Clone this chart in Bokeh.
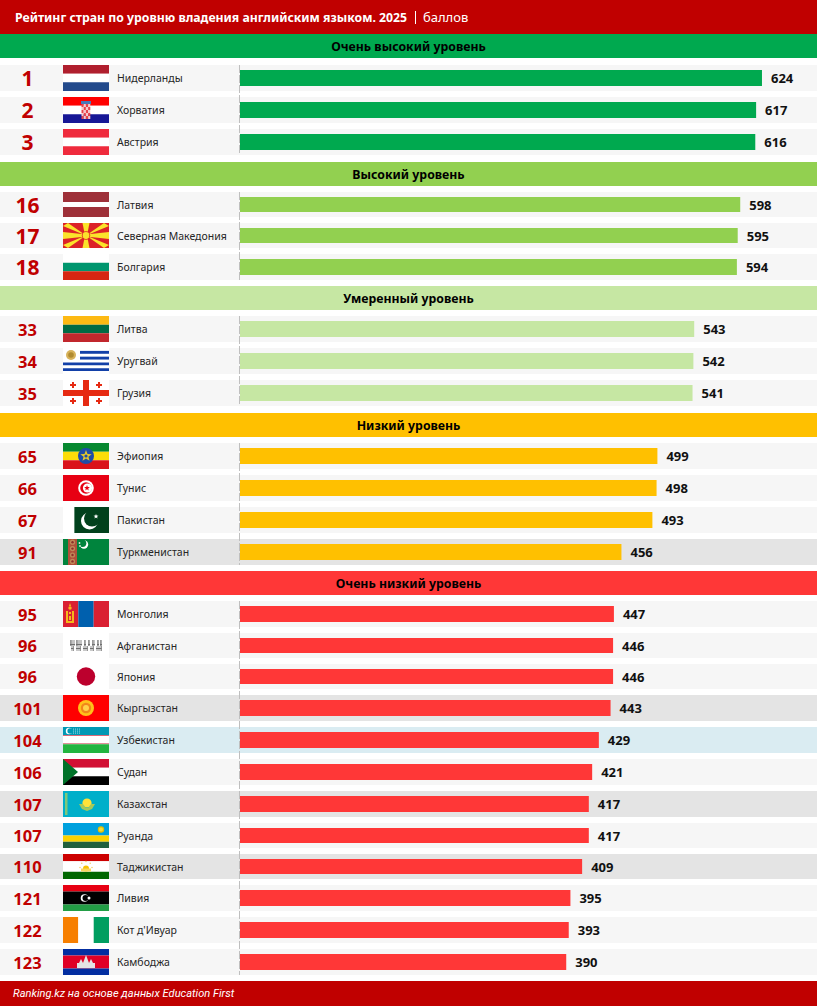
import math
from bokeh.core.properties import value as V
from bokeh.embed import file_html
from bokeh.models import Range1d
from bokeh.plotting import figure
from bokeh.resources import INLINE

# ---------- data ----------
TITLE = "Рейтинг стран по уровню владения английским языком. 2025"
UNIT = "баллов"
FOOTER = "Ranking.kz на основе данных Education First"
group_names = ["Очень высокий уровень", "Высокий уровень", "Умеренный уровень",
               "Низкий уровень", "Очень низкий уровень"]
group_colors = ["#00A94F", "#92D050", "#C6E7A3", "#FFC000", "#FF3737"]
group_sizes = [3, 3, 3, 4, 12]
ranks = [1, 2, 3, 16, 17, 18, 33, 34, 35, 65, 66, 67, 91, 95, 96, 96, 101, 104, 106, 107, 107, 110, 121, 122, 123]
countries = ["Нидерланды", "Хорватия", "Австрия", "Латвия", "Северная Македония", "Болгария",
             "Литва", "Уругвай", "Грузия", "Эфиопия", "Тунис", "Пакистан", "Туркменистан",
             "Монголия", "Афганистан", "Япония", "Кыргызстан", "Узбекистан", "Судан",
             "Казахстан", "Руанда", "Таджикистан", "Ливия", "Кот д'Ивуар", "Камбоджа"]
scores = [624, 617, 616, 598, 595, 594, 543, 542, 541, 499, 498, 493, 456,
          447, 446, 446, 443, 429, 421, 417, 417, 409, 395, 393, 390]
highlight = {"Туркменистан": "#E4E4E4", "Кыргызстан": "#E4E4E4", "Казахстан": "#E4E4E4",
             "Таджикистан": "#E4E4E4", "Узбекистан": "#DAECF2"}

# ---------- layout (page pixels) ----------
W, H = 817, 1006
row_top = [65, 97, 129, 192, 223, 254, 316, 348, 380, 443, 475, 507, 539,
           601, 633, 664, 695, 727, 759, 791, 823, 854, 885, 917, 949]
row_bot = [91, 123, 155, 217, 248, 280, 342, 374, 406, 469, 501, 533, 565,
           627, 658, 689, 721, 753, 785, 817, 848, 879, 911, 943, 975]
head_top = [34, 162, 286, 413, 571]
X0, SCALE = 240.0, 0.8365
FONT = "Noto Sans"
PAD = 0.5

p = figure(width=W + 1, height=H + 1, output_backend="svg", toolbar_location=None,
           x_range=Range1d((-PAD - X0) / SCALE, (W + PAD - X0) / SCALE), y_range=Range1d(H + PAD, -PAD),
           x_axis_location=None, y_axis_location=None,
           min_border=0, min_border_left=0, min_border_right=0, min_border_top=0, min_border_bottom=0,
           outline_line_color=None, background_fill_color="white", border_fill_color="white")
p.xgrid.visible = False
p.ygrid.visible = False
p.extra_x_ranges["px"] = Range1d(-PAD, W + PAD)
p.styles = {"margin": "-1px 0 0 -1px"}


def rc(x0, y0, x1, y1, c):
    p.quad(left=[x0], right=[x1], top=[y0], bottom=[y1], fill_color=c, line_color=None, x_range_name="px")


def circ(x, y, r, c):
    p.circle(x=[x], y=[y], radius=r, fill_color=c, line_color=None, x_range_name="px")


def poly(xs, ys, c):
    p.patch(xs, ys, fill_color=c, line_color=None, x_range_name="px")


def txt(x, y, s, size, color, style="normal", align="left", font=FONT):
    p.text(x=[x], y=[y], text=[s], text_font=V(font), text_font_size=f"{size}px",
           text_font_style=style, text_color=color, text_align=align,
           text_baseline="middle", x_range_name="px")


def star(x, y, r, c):
    xs, ys = [], []
    for i in range(10):
        a = -math.pi / 2 + i * math.pi / 5
        q = r if i % 2 == 0 else r * 0.42
        xs.append(x + q * math.cos(a))
        ys.append(y + q * math.sin(a))
    poly(xs, ys, c)


def hstripes(y0, y1, spec, x0=63, x1=109):
    tot = sum(f for f, _ in spec)
    y = y0
    for f, c in spec:
        h = (y1 - y0) * f / tot
        rc(x0, y, x1, y + h, c)
        y += h


def fl_nl(t, b): hstripes(t, b, [(1, "#B01F2E"), (1, "#FFFFFF"), (1, "#234A8C")])


def fl_hr(t, b):
    hstripes(t, b, [(1, "#FF0000"), (1, "#FFFFFF"), (1, "#171796")])
    rc(81, t + 4, 91, t + 7, "#4A78B8")
    cols = ["#E8434B", "#F6C9CC"]
    for j in range(5):
        for i in range(4):
            rc(81.5 + i * 2.2, t + 7 + j * 3, 83.7 + i * 2.2, t + 10 + j * 3, cols[(i + j) % 2])


def fl_at(t, b): hstripes(t, b, [(1, "#EF2B3D"), (1, "#FFFFFF"), (1, "#EF2B3D")])


def fl_lv(t, b): hstripes(t, b, [(2, "#9E3039"), (1, "#FFFFFF"), (2, "#9E3039")])


def fl_mk(t, b):
    rc(63, t, 109, b, "#DC2228")
    cx, cy = 86, (t + b) / 2
    y_ = "#FBE32B"
    targets = [(63, t), (109, t), (63, b), (109, b)]
    for tx, ty in targets:
        poly([cx, tx, tx + (5 if tx < cx else -5), cx], [cy, ty + (3 if ty < cy else -3), ty, cy], y_)
    poly([cx - 1, cx - 3.5, cx + 3.5, cx + 1], [cy, t, t, cy], y_)
    poly([cx - 1, cx - 3.5, cx + 3.5, cx + 1], [cy, b, b, cy], y_)
    poly([cx, 63, 63, cx], [cy - 1, cy - 3.5, cy + 3.5, cy + 1], y_)
    poly([cx, 109, 109, cx], [cy - 1, cy - 3.5, cy + 3.5, cy + 1], y_)
    circ(cx, cy, 4.2, "#DC2228")
    circ(cx, cy, 3.4, y_)


def fl_bg(t, b): hstripes(t, b, [(1, "#FFFFFF"), (1, "#00966E"), (1, "#D62612")])


def fl_lt(t, b): hstripes(t, b, [(1, "#FDB913"), (1, "#006A44"), (1, "#C1272D")])


def fl_uy(t, b):
    rc(63, t, 109, b, "#FFFFFF")
    h = (b - t) / 9
    for i, x0 in [(1, 80), (3, 80), (5, 63), (7, 63)]:
        rc(x0, t + i * h, 109, t + (i + 1) * h, "#1240A8")
    circ(71, t + 7, 5, "#D7B25A")
    circ(71, t + 7, 2.8, "#B08A30")


def fl_ge(t, b):
    red = "#E62A12"
    rc(63, t, 109, b, "#FFFFFF")
    rc(83, t, 89, b, red)
    rc(63, t + 10, 109, t + 16, red)
    for x, y in [(73, t + 5), (99, t + 5), (73, t + 21), (99, t + 21)]:
        rc(x - 3, y - 1, x + 3, y + 1, red)
        rc(x - 1, y - 3, x + 1, y + 3, red)


def fl_et(t, b):
    hstripes(t, b, [(1, "#078930"), (1, "#FCDD09"), (1, "#DA121A")])
    cy = (t + b) / 2
    circ(86, cy, 8, "#1F4CA8")
    star(86, cy, 6, "#E6C92A")
    circ(86, cy, 1.6, "#1F4CA8")


def fl_tn(t, b):
    rc(63, t, 109, b, "#E70013")
    cy = (t + b) / 2
    circ(86, cy, 7.8, "#FFFFFF")
    circ(86, cy, 5.8, "#E70013")
    circ(87.5, cy, 4.6, "#FFFFFF")
    star(87, cy, 3.0, "#E70013")


def fl_pk(t, b):
    rc(74, t, 109, b, "#01411C")
    rc(74, t, 75, b, "#5E8A70")
    cy = t + 14
    circ(89.5, cy, 8.5, "#FFFFFF")
    circ(92, cy - 2.5, 8, "#01411C")
    star(96, t + 9.5, 2.6, "#FFFFFF")


def fl_tm(t, b):
    rc(63, t, 109, b, "#00843D")
    rc(68, t, 77, b, "#B0503A")
    for k in range(4):
        y = t + 3.2 + k * 6.4
        circ(72.5, y, 2.6, "#C08A58")
        circ(72.5, y, 1.2, "#8E2F2A")
    circ(84, t + 5.5, 4.2, "#FFFFFF")
    circ(82.5, t + 4.2, 3.8, "#00843D")
    circ(79.5, t + 4, 0.9, "#DCEEDD")
    circ(80, t + 7, 0.9, "#DCEEDD")


def fl_mn(t, b):
    rc(63, t, 78.3, b, "#DA2032")
    rc(78.3, t, 93.7, b, "#0060AE")
    rc(93.7, t, 109, b, "#DA2032")
    y_ = "#F5B81C"
    rc(66, t + 10, 68, t + 22, y_)
    rc(72, t + 10, 74, t + 22, y_)
    rc(69, t + 11, 71, t + 13, y_)
    rc(69, t + 15, 71, t + 19, y_)
    rc(68, t + 20, 72, t + 22, y_)
    circ(70, t + 7, 1.7, y_)
    poly([69, 70, 71], [t + 5, t + 2, t + 5], y_)


def fl_af(t, b):
    rc(63, t, 109, b, "#FFFFFF")
    top = [(70, 75), (76, 82), (84, 86), (88, 90), (92, 95), (97, 99), (100, 102)]
    bot = [(71, 74), (76, 81), (83, 88), (90, 94), (96, 102)]
    for x0, x1 in top:
        rc(x0, t + 7, x1, t + 13, "#C4C4C4")
        rc(x0 + 0.5, t + 7, x0 + 1.3, t + 13, "#6E6E6E")
        rc(x0, t + 11, x1, t + 12, "#707070")
    for x0, x1 in bot:
        rc(x0, t + 13, x1, t + 18, "#C8C8C8")
        rc(x0, t + 15, x1, t + 16, "#707070")
        rc(x1 - 1, t + 13, x1 - 0.2, t + 18, "#8A8A8A")


def fl_jp(t, b):
    rc(63, t, 109, b, "#FFFFFF")
    circ(86, (t + b) / 2, 9.2, "#BC002D")


def fl_kg(t, b):
    rc(63, t, 109, b, "#FF0000")
    cy = (t + b) / 2
    circ(86, cy, 8, "#FFC21A")
    circ(86, cy, 5.2, "#F2861A")
    circ(86, cy, 3, "#FFD24A")


def fl_uz(t, b):
    rc(63, t, 109, b, "#FFFFFF")
    rc(63, t, 109, t + 8, "#0099B5")
    rc(63, t + 8, 109, t + 9, "#D86A78")
    rc(63, t + 16.3, 109, t + 17.3, "#D86A78")
    rc(63, t + 17.3, 109, b, "#22B540")
    circ(69, t + 4, 3.2, "#FFFFFF")
    circ(70.2, t + 4, 2.8, "#0099B5")
    for i in range(4):
        for j in range(3):
            circ(73.5 + i * 2, t + 2 + j * 2, 0.55, "#BFE6EC")


def fl_sd(t, b):
    hstripes(t, b, [(1, "#D21034"), (1, "#FFFFFF"), (1, "#000000")])
    poly([63, 78, 63], [t, (t + b) / 2, b], "#007229")


def fl_kz(t, b):
    rc(63, t, 109, b, "#00AFCA")
    rc(65, t + 2, 67.5, b - 2, "#7FC77A")
    cy = t + 12
    circ(87, cy, 4.6, "#FFE23A")
    poly([79, 83, 86, 88, 91, 95, 92, 87, 82], [cy + 1, cy + 1, cy + 5, cy + 5, cy + 1, cy + 1, cy + 6, cy + 8, cy + 6], "#A6C95A")


def fl_rw(t, b):
    hstripes(t, b, [(2, "#00A1DE"), (1, "#FAD201"), (1, "#20603D")])
    circ(101, t + 6.5, 3.2, "#E5BE01")
    circ(101, t + 6.5, 2, "#F3DC3C")


def fl_tj(t, b):
    hstripes(t, b, [(2, "#CC0000"), (3, "#FFFFFF"), (2, "#006600")])
    cy = (t + b) / 2
    circ(86, cy + 2, 3, "#F8C300")
    rc(81, cy + 2, 91, cy + 5, "#F8D760")
    for i in range(5):
        a = math.pi + i * math.pi / 4
        circ(86 + 6 * math.cos(a), cy + 1 + 6 * math.sin(a), 0.8, "#F0D070")


def fl_ly(t, b):
    hstripes(t, b, [(1, "#E70013"), (2, "#000000"), (1, "#239E46")])
    cy = (t + b) / 2
    circ(84.5, cy, 3.8, "#FFFFFF")
    circ(85.5, cy, 3, "#000000")
    circ(89, cy, 1.5, "#FFFFFF")


def fl_ci(t, b):
    rc(63, t, 78.3, b, "#F77F00")
    rc(78.3, t, 93.7, b, "#FFFFFF")
    rc(93.7, t, 109, b, "#009E60")


def fl_kh(t, b):
    hstripes(t, b, [(1, "#032EA1"), (2, "#E00025"), (1, "#032EA1")])
    cy = (t + b) / 2
    w = "#E4E4E4"
    rc(77, cy + 1, 95, cy + 6, w)
    poly([79, 81, 83], [cy + 1, cy - 3, cy + 1], w)
    poly([89, 91, 93], [cy + 1, cy - 3, cy + 1], w)
    poly([83, 86, 89], [cy + 1, cy - 7, cy + 1], w)


flags = [fl_nl, fl_hr, fl_at, fl_lv, fl_mk, fl_bg, fl_lt, fl_uy, fl_ge, fl_et, fl_tn, fl_pk, fl_tm,
         fl_mn, fl_af, fl_jp, fl_kg, fl_uz, fl_sd, fl_kz, fl_rw, fl_tj, fl_ly, fl_ci, fl_kh]

# ---------- title and footer ----------
rc(-2, -2, W + 2, 34, "#C00000")
rc(-2, 981, W + 2, H + 2, "#C00000")
txt(15, 17, TITLE, 12.25, "white", "bold")
rc(415, 11, 416, 24, "white")
txt(423, 17, UNIT, 13, "white")
txt(13, 993.5, FOOTER, 11.1, "white", "italic", font="Roboto")

# ---------- groups, rows ----------
i = 0
for g, n in enumerate(group_sizes):
    col = group_colors[g]
    rc(-2, head_top[g], W + 2, head_top[g] + 24, col)
    txt(W / 2, head_top[g] + 12, group_names[g], 12.3, "black", "bold", "center")
    for k in range(i, i + n):
        t, b = row_top[k], row_bot[k]
        rc(-2, t, W + 2, b, highlight.get(countries[k], "#F6F6F6"))
        rc(63, t, 109, b, "white")
        flags[k](t, b)
        big = ranks[k] < 20
        txt(27.5, (t + b) / 2 + 0.5, str(ranks[k]), 21 if big else 16.5, "#C00000", "bold", "center")
        txt(117, (t + b) / 2, countries[k], 10.5, "#262626")
        p.hbar(y=[(t + b) / 2], left=[0], right=[scores[k]], height=b - t - 10,
               fill_color=col, line_color=None)
        p.text(x=[scores[k]], y=[(t + b) / 2 + 0.5], text=[str(scores[k])], x_offset=9,
               text_font=V(FONT), text_font_size="13px", text_font_style="bold",
               text_color="#111111", text_align="left", text_baseline="middle")
    p.segment(x0=[239.5], x1=[239.5], y0=[row_top[i]], y1=[row_bot[i + n - 1]],
              line_color="#BFBFBF", line_width=1, line_dash="8 2", x_range_name="px")
    i += n

open("out.html", "w").write(file_html(p, INLINE))
